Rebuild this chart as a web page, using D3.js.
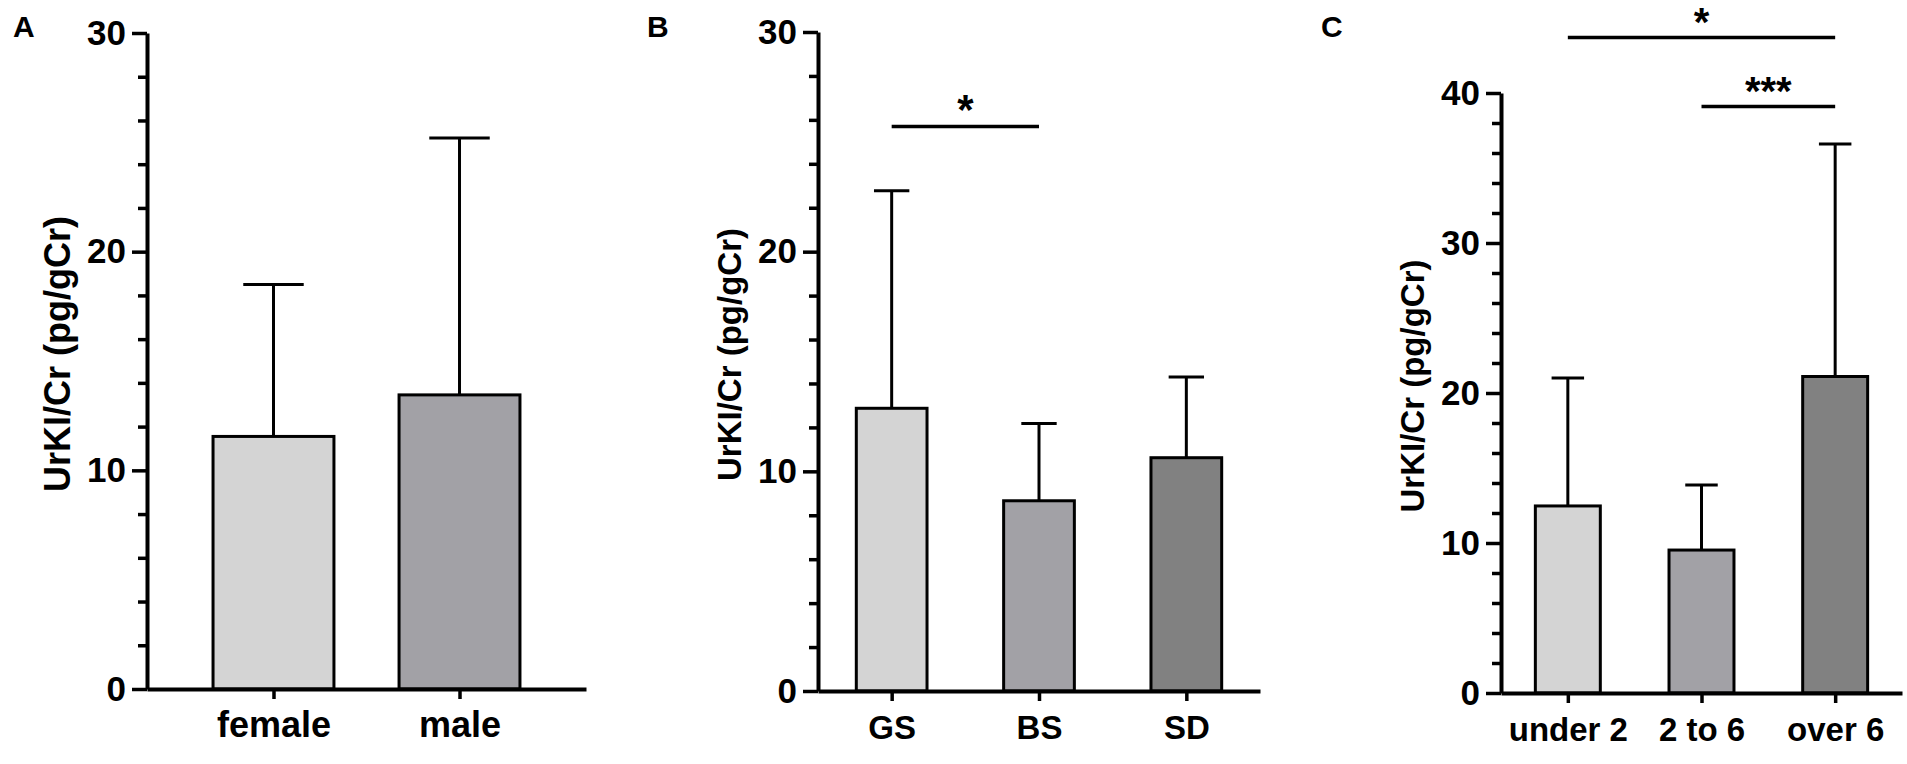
<!DOCTYPE html>
<html>
<head>
<meta charset="utf-8">
<script src="https://cdn.jsdelivr.net/npm/d3@7"></script>
<style>
  body { margin: 0; background: #fff; }
  text { font-family: "Liberation Sans", Arial, Helvetica, sans-serif; font-weight: bold; fill: #000; }
</style>
</head>
<body>
<div id="chart"></div>
<script>
// UrKI/Cr by sex
const sexGroups = ["female", "male"];
const sexMeans = [11.55, 13.45];
const sexSD = [6.95, 11.75];

// UrKI/Cr by type
const typeGroups = ["GS", "BS", "SD"];
const typeMeans = [12.87, 8.66, 10.62];
const typeSD = [9.9, 3.52, 3.68];

// UrKI/Cr by age
const ageGroups = ["under 2", "2 to 6", "over 6"];
const ageMeans = [12.47, 9.53, 21.1];
const ageSD = [8.53, 4.34, 15.5];

const barColors = ["#d4d4d4", "#a2a1a6", "#818181"];
const yTitle = "UrKI/Cr (pg/gCr)";

// significance brackets (height in data units)
const typeSig = [{from: "GS", to: "BS", at: 25.7, mark: "*"}];
const ageSig = [
    {from: "under 2", to: "over 6", at: 43.7, mark: "*"},
    {from: "2 to 6", to: "over 6", at: 39.1, mark: "***"}
];

const width = 1907;
const height = 764;

const svg = d3.select("#chart").append("svg")
    .attr("width", width)
    .attr("height", height);

function drawPanel(p) {
    const g = svg.append("g");
    const data = p.groups.map((name, i) => ({name: name, mean: p.means[i], sd: p.sds[i], color: barColors[i]}));

    const y = d3.scaleLinear().domain([0, p.yMax]).range([p.y0, p.y1]);
    const x = d3.scalePoint().domain(p.groups).range([p.x0, p.x1]).padding(p.pad);
    const bw = x.step() * p.barRatio;
    const cw = bw / 2;

    // error bars (upper only), drawn under the bars
    const err = g.append("g");
    err.selectAll("line.stem")
        .data(data)
        .enter()
        .append("line")
        .attr("class", "stem")
        .attr("x1", d => x(d.name))
        .attr("x2", d => x(d.name))
        .attr("y1", d => y(d.mean))
        .attr("y2", d => y(d.mean + d.sd))
        .attr("stroke", "#000")
        .attr("stroke-width", 3);
    err.selectAll("line.cap")
        .data(data)
        .enter()
        .append("line")
        .attr("class", "cap")
        .attr("x1", d => x(d.name) - cw / 2)
        .attr("x2", d => x(d.name) + cw / 2)
        .attr("y1", d => y(d.mean + d.sd))
        .attr("y2", d => y(d.mean + d.sd))
        .attr("stroke", "#000")
        .attr("stroke-width", 3);

    // bars
    g.append("g")
        .selectAll("rect")
        .data(data)
        .enter()
        .append("rect")
        .attr("x", d => x(d.name) - bw / 2)
        .attr("y", d => y(d.mean))
        .attr("width", bw)
        .attr("height", d => y(0) - y(d.mean))
        .attr("fill", d => d.color)
        .attr("stroke", "#000")
        .attr("stroke-width", 3);

    // minor y ticks
    const minor = d3.range(0, p.yMax + 1, 2).filter(v => v % 10 !== 0);
    g.append("g")
        .attr("transform", `translate(${p.x0},0)`)
        .call(d3.axisLeft(y).tickValues(minor).tickSize(9).tickFormat(""))
        .call(a => a.select(".domain").remove())
        .call(a => a.selectAll("line").attr("stroke-width", 3.5));

    // major y ticks + axis line
    const major = d3.range(0, p.yMax + 1, 10);
    g.append("g")
        .attr("transform", `translate(${p.x0},0)`)
        .call(d3.axisLeft(y).tickValues(major).tickSize(15).tickSizeOuter(0).tickPadding(6))
        .call(a => a.select(".domain").attr("stroke-width", 4))
        .call(a => a.selectAll("line").attr("stroke-width", 3.5))
        .call(a => a.selectAll("text").attr("font-size", 35).attr("font-family", null));

    // x axis
    g.append("g")
        .attr("transform", `translate(0,${p.y0})`)
        .call(d3.axisBottom(x).tickSize(10).tickSizeOuter(0))
        .call(a => a.select(".domain").attr("stroke-width", 4))
        .call(a => a.selectAll("line").attr("stroke-width", 3.5))
        .call(a => a.selectAll("text")
            .attr("y", 48)
            .attr("dy", 0)
            .attr("font-size", p.labelSize)
            .attr("font-family", null));

    // y axis title
    g.append("text")
        .attr("transform", `translate(${p.x0 - 77},${(p.y0 + p.y1) / 2 - 7}) rotate(-90)`)
        .attr("text-anchor", "middle")
        .attr("font-size", p.labelSize)
        .text(yTitle);

    // significance brackets
    const sig = g.append("g");
    sig.selectAll("line")
        .data(p.sig)
        .enter()
        .append("line")
        .attr("x1", d => x(d.from))
        .attr("x2", d => x(d.to))
        .attr("y1", d => y(d.at))
        .attr("y2", d => y(d.at))
        .attr("stroke", "#000")
        .attr("stroke-width", 3.5);
    sig.selectAll("text")
        .data(p.sig)
        .enter()
        .append("text")
        .attr("x", d => (x(d.from) + x(d.to)) / 2)
        .attr("y", d => y(d.at) - 2)
        .attr("text-anchor", "middle")
        .attr("font-size", p.starSize)
        .text(d => d.mark);

    // panel letter
    g.append("text")
        .attr("x", p.letterX)
        .attr("y", 37)
        .attr("font-size", 30)
        .text(p.letter);
}

drawPanel({
    letter: "A", letterX: 13,
    groups: sexGroups, means: sexMeans, sds: sexSD,
    yMax: 30, x0: 147, x1: 586, y0: 689, y1: 33,
    pad: 0.68, barRatio: 0.65, labelSize: 36, starSize: 42, sig: []
});

drawPanel({
    letter: "B", letterX: 647,
    groups: typeGroups, means: typeMeans, sds: typeSD,
    yMax: 30, x0: 818, x1: 1260, y0: 691, y1: 32,
    pad: 0.5, barRatio: 0.48, labelSize: 33, starSize: 42, sig: typeSig
});

drawPanel({
    letter: "C", letterX: 1321,
    groups: ageGroups, means: ageMeans, sds: ageSD,
    yMax: 40, x0: 1501, x1: 1902, y0: 693, y1: 93,
    pad: 0.5, barRatio: 0.486, labelSize: 33, starSize: 40, sig: ageSig
});
</script>
</body>
</html>
